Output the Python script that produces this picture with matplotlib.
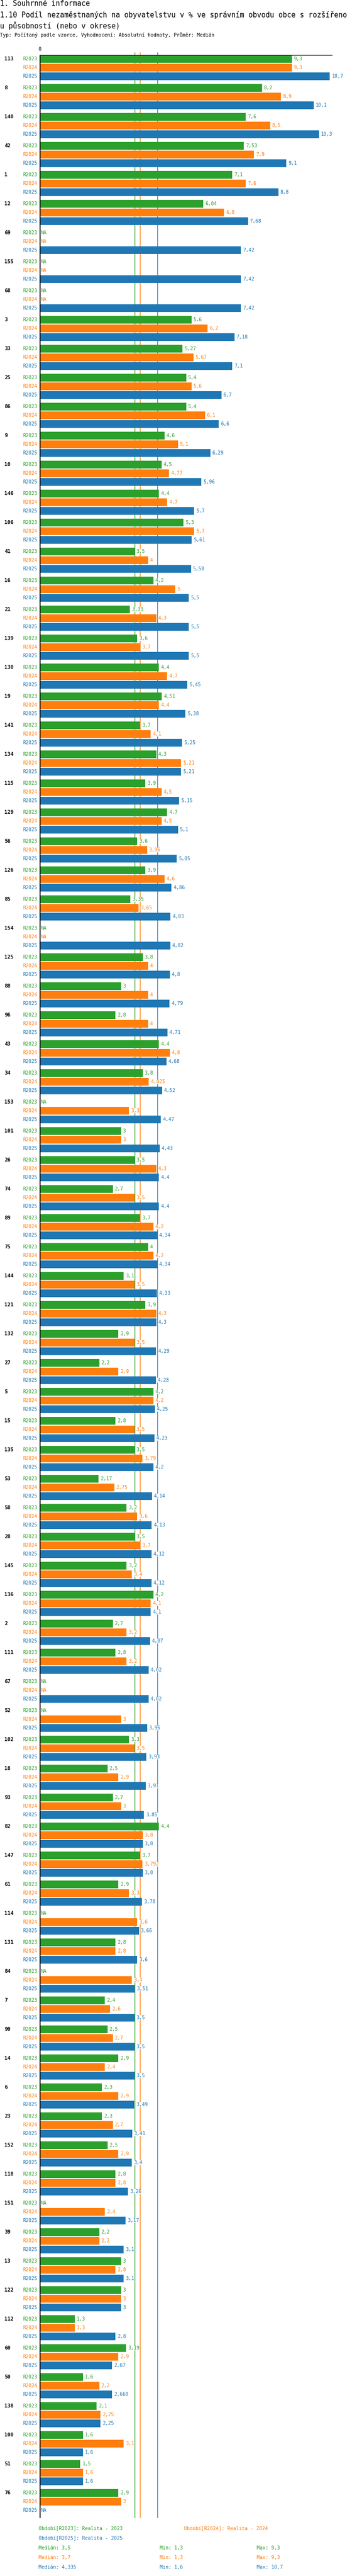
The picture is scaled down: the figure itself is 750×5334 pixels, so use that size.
import numpy as np
import matplotlib
matplotlib.use("Agg")
import matplotlib.pyplot as plt

# --- data (NaN = NA) ---
NA = np.nan
codes = ["113", "8", "140", "42", "1", "12", "69", "155", "68", "3",
         "33", "25", "86", "9", "10", "146", "106", "41", "16", "21",
         "139", "130", "19", "141", "134", "115", "129", "56", "126", "85",
         "154", "125", "88", "96", "43", "34", "153", "101", "26", "74",
         "89", "75", "144", "121", "132", "27", "5", "15", "135", "53",
         "58", "28", "145", "136", "2", "111", "67", "52", "102", "18",
         "93", "82", "147", "61", "114", "131", "84", "7", "90", "14",
         "6", "23", "152", "118", "151", "39", "13", "122", "112", "60",
         "50", "138", "100", "51", "76"]
r2023 = [9.3, 8.2, 7.6, 7.53, 7.1, 6.04, NA, NA, NA, 5.6,
         5.27, 5.4, 5.4, 4.6, 4.5, 4.4, 5.3, 3.5, 4.2, 3.33,
         3.6, 4.4, 4.51, 3.7, 4.3, 3.9, 4.7, 3.6, 3.9, 3.35,
         NA, 3.8, 3, 2.8, 4.4, 3.8, NA, 3, 3.5, 2.7,
         3.7, 4, 3.1, 3.9, 2.9, 2.2, 4.2, 2.8, 3.5, 2.17,
         3.2, 3.5, 3.2, 4.2, 2.7, 2.8, NA, NA, 3.3, 2.5,
         2.7, 4.4, 3.7, 2.9, NA, 2.8, NA, 2.4, 2.5, 2.9,
         2.3, 2.3, 2.5, 2.8, NA, 2.2, 3, 3, 1.3, 3.19,
         1.6, 2.1, 1.6, 1.5, 2.9]
r2024 = [9.3, 8.9, 8.5, 7.9, 7.6, 6.8, NA, NA, NA, 6.2,
         5.67, 5.6, 6.1, 5.1, 4.77, 4.7, 5.7, 4, 5, 4.3,
         3.7, 4.7, 4.4, 4.1, 5.21, 4.5, 4.5, 3.96, 4.6, 3.65,
         NA, 4, 4, 4, 4.8, 4.025, 3.3, 3, 4.3, 3.5,
         4.2, 4.2, 3.5, 4.3, 3.5, 2.9, 4.2, 3.5, 3.79, 2.75,
         3.6, 3.7, 3.4, 4.1, 3.2, 3.2, NA, 3, 3.5, 2.9,
         3, 3.8, 3.792, 3.3, 3.6, 2.8, 3.4, 2.6, 2.7, 2.4,
         2.9, 2.7, 2.9, 2.8, 2.4, 2.2, 2.8, 3, 1.3, 2.9,
         2.2, 2.25, 3.1, 1.6, 3]
r2025 = [10.7, 10.1, 10.3, 9.1, 8.8, 7.68, 7.42, 7.42, 7.42, 7.18,
         7.1, 6.7, 6.6, 6.29, 5.96, 5.7, 5.61, 5.58, 5.5, 5.5,
         5.5, 5.45, 5.38, 5.25, 5.21, 5.15, 5.1, 5.05, 4.86, 4.83,
         4.82, 4.8, 4.79, 4.71, 4.68, 4.52, 4.47, 4.43, 4.4, 4.4,
         4.34, 4.34, 4.33, 4.3, 4.29, 4.28, 4.25, 4.23, 4.2, 4.14,
         4.13, 4.12, 4.12, 4.1, 4.07, 4.02, 4.02, 3.96, 3.93, 3.91,
         3.85, 3.8, 3.8, 3.78, 3.66, 3.6, 3.51, 3.5, 3.5, 3.5,
         3.49, 3.41, 3.4, 3.26, 3.17, 3.1, 3.1, 3, 2.8, 2.67,
         2.668, 2.25, 1.6, 1.6, NA]

periods = ["R2023", "R2024", "R2025"]
period_names = ["Realita - 2023", "Realita - 2024", "Realita - 2025"]
medians = [3.5, 3.7, 4.335]
mins = [1.3, 1.3, 1.6]
maxs = [9.3, 9.3, 10.7]
colors = ["#2ca02c", "#ff7f0e", "#1f77b4"]

title1 = "1. Souhrnné informace"
title2 = "1.10 Podíl nezaměstnaných na obyvatelstvu v % ve správním obvodu obce s rozšířeno"
title3 = "u působností (nebo v okrese)"
subtitle = "Typ: Počítaný podle vzorce, Vyhodnocení: Absolutní hodnoty, Průměr: Medián"

# --- layout (pixels) ---
W, H = 750, 5334
X0, X1 = 82, 689          # value 0 and right end of the top axis line
TOP, BOT = 108, 5214      # extent of the reference lines
AXIS_Y = 114
FIRST_ROW = 122
ROW, GROUP = 18, 60
XMAX = 10.8
MONO = "DejaVu Sans Mono"


def fmt(v):
    return f"{v:g}".replace(".", ",")


fig = plt.figure(figsize=(W / 100, H / 100), dpi=100)

# overlay axes in pixel coordinates for all the free text
lay = fig.add_axes([0, 0, 1, 1])
lay.set_xlim(0, W)
lay.set_ylim(H, 0)
lay.axis("off")

ax = fig.add_axes([X0 / W, (H - BOT) / H, (X1 - X0) / W, (BOT - TOP) / H])
ax.set_xlim(0, XMAX)
ax.set_ylim(BOT, TOP)
ax.axis("off")

lay.text(0, 8, title1, fontsize=10.6, family=MONO, va="center")
lay.text(0, 31, title2, fontsize=10.6, family=MONO, va="center")
lay.text(0, 53, title3, fontsize=10.6, family=MONO, va="center")
lay.text(0, 73, subtitle, fontsize=7.2, family=MONO, va="center")
lay.text(X0, 102, "0", fontsize=7.2, family=MONO, ha="center", va="center")

# reference (median) lines, top axis line and zero line
for med, c in zip(medians, colors):
    ax.vlines(med, TOP, BOT, color=c, lw=1, zorder=1)
ax.hlines(AXIS_Y, 0, XMAX, color="black", lw=1, zorder=3)
ax.vlines(0, AXIS_Y, BOT, color="black", lw=2.2, zorder=4)

series = [r2023, r2024, r2025]
pad = 4 * XMAX / (X1 - X0)
for g, code in enumerate(codes):
    gy = FIRST_ROW + g * GROUP
    lay.text(9, gy, code, fontsize=7.6, family=MONO, fontweight="bold",
             va="center", ha="left")
    for r, (vals, c, per) in enumerate(zip(series, colors, periods)):
        y = gy + r * ROW
        lay.text(77, y, per, fontsize=7.2, family=MONO, color=c,
                 ha="right", va="center")
        v = vals[g]
        if np.isnan(v):
            ax.text(pad * 0.6, y, "NA", fontsize=7.2, family=MONO, color=c,
                    va="center", ha="left", zorder=5,
                    bbox=dict(facecolor="white", edgecolor="none", pad=0.3))
            continue
        ax.barh(y, v, height=16, color=c, zorder=2)
        ax.text(v + pad, y, fmt(v), fontsize=7.2, family=MONO, color=c,
                va="center", ha="left", zorder=5,
                bbox=dict(facecolor="white", edgecolor="none", pad=0.3))

# legend block
leg_y = 5236
lay.text(80, leg_y, f"Období[{periods[0]}]: {period_names[0]}", fontsize=7.2,
         family=MONO, color=colors[0], va="center")
lay.text(381, leg_y, f"Období[{periods[1]}]: {period_names[1]}", fontsize=7.2,
         family=MONO, color=colors[1], va="center")
lay.text(80, leg_y + 20, f"Období[{periods[2]}]: {period_names[2]}", fontsize=7.2,
         family=MONO, color=colors[2], va="center")
for i, c in enumerate(colors):
    y = leg_y + 40 + i * 20
    lay.text(80, y, f"Medián: {fmt(medians[i])}", fontsize=7.2, family=MONO,
             color=c, va="center")
    lay.text(331, y, f"Min: {fmt(mins[i])}", fontsize=7.2, family=MONO,
             color=c, va="center")
    lay.text(532, y, f"Max: {fmt(maxs[i])}", fontsize=7.2, family=MONO,
             color=c, va="center")

fig.savefig("out.png", dpi=100, facecolor="white")
